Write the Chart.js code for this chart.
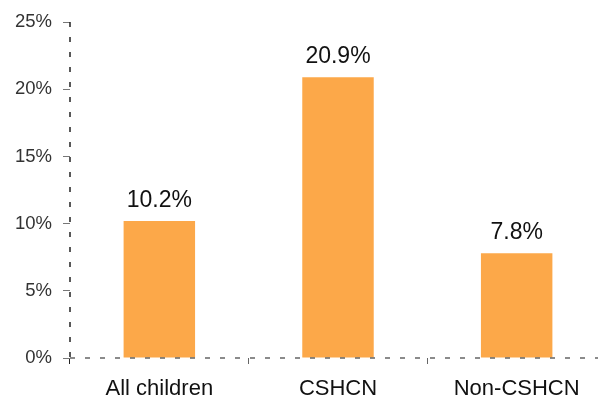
<!DOCTYPE html>
<html>
<head>
<meta charset="utf-8">
<script src="https://cdn.jsdelivr.net/npm/chart.js@4.4.1/dist/chart.umd.min.js"></script>
<style>
  html, body { margin: 0; padding: 0; background: #fff; }
  #wrap { width: 598px; height: 402px; overflow: hidden; }
  #box { width: 606px; height: 402px; }
</style>
</head>
<body>
<div id="wrap"><div id="box"><canvas id="chart"></canvas></div></div>
<script>
const categories = ['All children', 'CSHCN', 'Non-CSHCN'];
const shares = [10.2, 20.9, 7.8];
const yTicks = [0, 5, 10, 15, 20, 25];

const FONT = '"Liberation Sans", Arial, Helvetica, sans-serif';

// пунктирные оси и подписи над столбцами
const barLabels = {
  id: 'barLabels',
  afterDatasetsDraw(chart) {
    const ctx = chart.ctx;
    const area = chart.chartArea;
    ctx.save();
    ctx.lineWidth = 1.5;
    ctx.setLineDash([5, 10]);
    ctx.strokeStyle = '#222';
    ctx.beginPath();
    ctx.moveTo(area.left, area.top);
    ctx.lineTo(area.left, area.bottom);
    ctx.stroke();
    ctx.strokeStyle = '#666';
    ctx.beginPath();
    ctx.moveTo(area.left, area.bottom);
    ctx.lineTo(area.right, area.bottom);
    ctx.stroke();
    ctx.setLineDash([]);

    const meta = chart.getDatasetMeta(0);
    ctx.font = '23px ' + FONT;
    ctx.fillStyle = '#111';
    ctx.textAlign = 'center';
    ctx.textBaseline = 'alphabetic';
    meta.data.forEach((bar, i) => {
      ctx.fillText(shares[i].toFixed(1) + '%', bar.x, bar.y - 14);
    });
    ctx.restore();
  }
};

new Chart(document.getElementById('chart'), {
  type: 'bar',
  data: {
    labels: categories,
    datasets: [{
      data: shares,
      backgroundColor: '#FCA849',
      borderWidth: 0,
      barPercentage: 0.4,
      categoryPercentage: 1
    }]
  },
  plugins: [barLabels],
  options: {
    responsive: true,
    maintainAspectRatio: false,
    animation: false,
    layout: { padding: { top: 21, right: 0, left: 0, bottom: 0 } },
    plugins: {
      legend: { display: false },
      tooltip: { enabled: false }
    },
    scales: {
      x: {
        afterFit(scale) { scale.height = 44; },
        border: { display: false },
        grid: {
          display: true,
          offset: true,
          drawOnChartArea: false,
          drawTicks: true,
          tickLength: 6,
          color: (c) => c.index === 0 ? '#222' : '#666'
        },
        ticks: {
          color: '#111',
          padding: 12,
          font: { family: FONT, size: 22 }
        }
      },
      y: {
        min: 0,
        max: 25,
        afterFit(scale) { scale.width = 70; },
        afterBuildTicks(scale) { scale.ticks = yTicks.map(v => ({ value: v })); },
        border: { display: false },
        grid: {
          display: true,
          drawOnChartArea: false,
          drawTicks: true,
          tickLength: 7,
          color: '#777'
        },
        ticks: {
          color: '#333',
          padding: 11,
          font: { family: FONT, size: 18.5 },
          callback: (v) => v + '%'
        }
      }
    }
  }
});
</script>
</body>
</html>
